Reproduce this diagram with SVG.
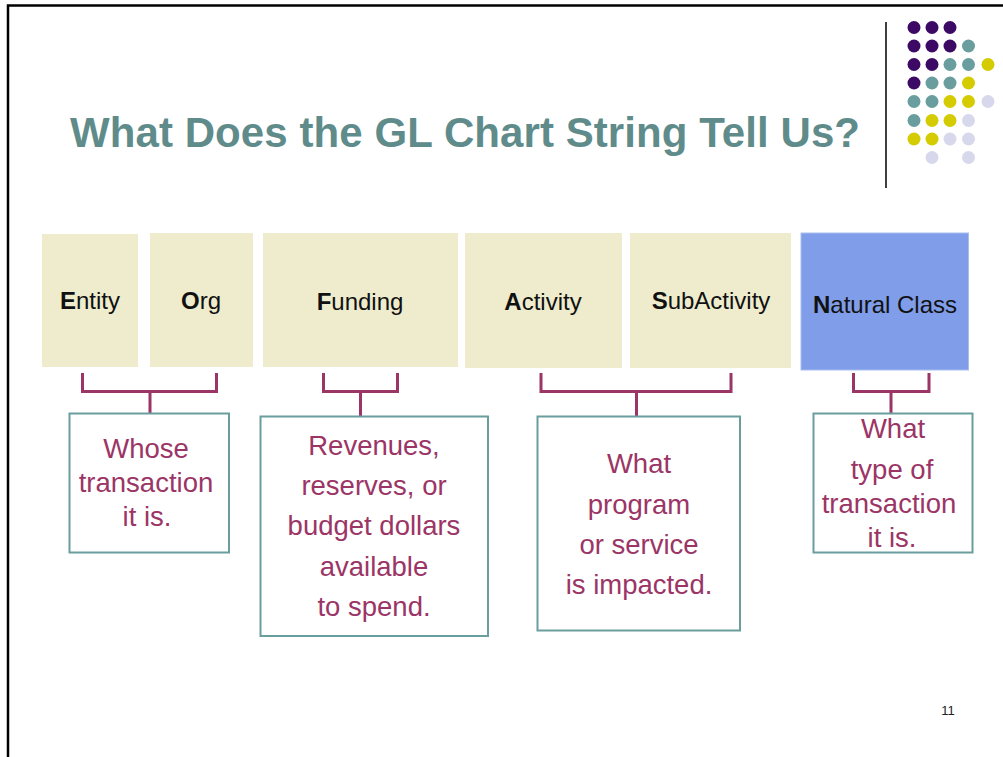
<svg xmlns="http://www.w3.org/2000/svg" width="1003" height="757" viewBox="0 0 1003 757">
  <style>
    .seg { fill: #EEECCD; }
    .seg-hi { fill: #7F9DE8; stroke: #A9BEF0; stroke-width: 1; }
    .seg-label { font-family: "Liberation Sans", Arial, sans-serif; font-size: 24px; fill: #111; text-anchor: middle; }
    .seg-label tspan.init { font-weight: bold; }
    .note { fill: #fff; stroke: #6A9E9E; stroke-width: 2; }
    .note-text { font-family: "Liberation Sans", Arial, sans-serif; font-size: 27.5px; fill: #9B3566; text-anchor: middle; }
    .bracket { fill: none; stroke: #9B3566; stroke-width: 3; }
    .title { font-family: "Liberation Sans", Arial, sans-serif; font-size: 42px; font-weight: bold; fill: #5F8C8A; }
    .p { fill: #3C0A64; }
    .t { fill: #6A9E9E; }
    .y { fill: #D4CC00; }
    .l { fill: #D8D8EC; }
  </style>

  <rect width="1003" height="757" fill="#fff"/>
  <!-- slide frame -->
  <path d="M8 757 V5.5 H1003" fill="none" stroke="#000" stroke-width="2.5"/>

  <!-- corner decoration -->
  <g id="decor">
    <line x1="886" y1="22" x2="886" y2="188" stroke="#000" stroke-width="1.5"/>
    <g>
      <circle class="p" cx="914" cy="27.5" r="6.5"/><circle class="p" cx="932" cy="27.5" r="6.5"/><circle class="p" cx="950" cy="27.5" r="6.5"/>
      <circle class="p" cx="914" cy="46" r="6.5"/><circle class="p" cx="932" cy="46" r="6.5"/><circle class="p" cx="950" cy="46" r="6.5"/><circle class="t" cx="968.5" cy="46" r="6.5"/>
      <circle class="p" cx="914" cy="64.5" r="6.5"/><circle class="p" cx="932" cy="64.5" r="6.5"/><circle class="t" cx="950" cy="64.5" r="6.5"/><circle class="t" cx="968.5" cy="64.5" r="6.5"/><circle class="y" cx="988" cy="64.5" r="6.5"/>
      <circle class="p" cx="914" cy="83" r="6.5"/><circle class="t" cx="932" cy="83" r="6.5"/><circle class="t" cx="950" cy="83" r="6.5"/><circle class="y" cx="968.5" cy="83" r="6.5"/>
      <circle class="t" cx="914" cy="101.5" r="6.5"/><circle class="t" cx="932" cy="101.5" r="6.5"/><circle class="y" cx="950" cy="101.5" r="6.5"/><circle class="y" cx="968.5" cy="101.5" r="6.5"/><circle class="l" cx="988" cy="101.5" r="6.5"/>
      <circle class="t" cx="914" cy="120.5" r="6.5"/><circle class="y" cx="932" cy="120.5" r="6.5"/><circle class="y" cx="950" cy="120.5" r="6.5"/><circle class="l" cx="968.5" cy="120.5" r="6.5"/>
      <circle class="y" cx="914" cy="139" r="6.5"/><circle class="y" cx="932" cy="139" r="6.5"/><circle class="l" cx="950" cy="139" r="6.5"/><circle class="l" cx="968.5" cy="139" r="6.5"/>
      <circle class="l" cx="932" cy="157.5" r="6.5"/><circle class="l" cx="968.5" cy="157.5" r="6.5"/>
    </g>
  </g>

  <text class="title" x="70" y="147" textLength="790" lengthAdjust="spacing">What Does the GL Chart String Tell Us?</text>

  <!-- chart string segments -->
  <g id="entity">
    <rect class="seg" x="42" y="234" width="96" height="133"/>
    <text class="seg-label" x="90" y="309"><tspan class="init">E</tspan>ntity</text>
  </g>
  <g id="org">
    <rect class="seg" x="150" y="233" width="103" height="134"/>
    <text class="seg-label" x="201" y="309"><tspan class="init">O</tspan>rg</text>
  </g>
  <g id="funding">
    <rect class="seg" x="263" y="233" width="195" height="134"/>
    <text class="seg-label" x="360" y="310"><tspan class="init">F</tspan>unding</text>
  </g>
  <g id="activity">
    <rect class="seg" x="465" y="233" width="157" height="135"/>
    <text class="seg-label" x="543" y="310"><tspan class="init">A</tspan>ctivity</text>
  </g>
  <g id="subactivity">
    <rect class="seg" x="630" y="233" width="161" height="135"/>
    <text class="seg-label" x="711" y="309"><tspan class="init">S</tspan>ubActivity</text>
  </g>
  <g id="natural-class">
    <rect class="seg-hi" x="801" y="233" width="167.5" height="137"/>
    <text class="seg-label" x="885" y="313"><tspan class="init">N</tspan>atural Class</text>
  </g>

  <!-- brackets grouping segments to their meaning -->
  <g id="connectors">
    <path class="bracket" d="M82.5 373 V391.5 H216.5 V373 M150 391.5 V413"/>
    <path class="bracket" d="M323.5 373 V391.5 H397.5 V373 M360.5 391.5 V416"/>
    <path class="bracket" d="M541 373 V391.5 H731 V373 M636.5 391.5 V416"/>
    <path class="bracket" d="M853.5 373 V391.5 H929 V373 M891 391.5 V413"/>
  </g>

  <!-- explanation boxes -->
  <g id="note-who">
    <rect class="note" x="69.5" y="413.5" width="159.5" height="139"/>
    <text class="note-text"><tspan x="146" y="458">Whose</tspan><tspan x="146" y="492">transaction</tspan><tspan x="147" y="526">it is.</tspan></text>
  </g>
  <g id="note-funds">
    <rect class="note" x="260.5" y="416.5" width="227.5" height="219.5"/>
    <text class="note-text"><tspan x="374" y="455">Revenues,</tspan><tspan x="374" y="495">reserves, or</tspan><tspan x="374" y="535">budget dollars</tspan><tspan x="374" y="576">available</tspan><tspan x="374" y="616">to spend.</tspan></text>
  </g>
  <g id="note-program">
    <rect class="note" x="537.5" y="416.5" width="202.5" height="214"/>
    <text class="note-text"><tspan x="639" y="473">What</tspan><tspan x="639" y="514">program</tspan><tspan x="639" y="554">or service</tspan><tspan x="639" y="594">is impacted.</tspan></text>
  </g>
  <g id="note-type">
    <rect class="note" x="813.5" y="413.5" width="159" height="139"/>
    <text class="note-text"><tspan x="893" y="438">What</tspan><tspan x="892" y="479">type of</tspan><tspan x="889" y="513">transaction</tspan><tspan x="892" y="547">it is.</tspan></text>
  </g>

  <text x="948" y="715" font-family="'Liberation Sans', Arial, sans-serif" font-size="13" fill="#222" text-anchor="middle">11</text>
</svg>
